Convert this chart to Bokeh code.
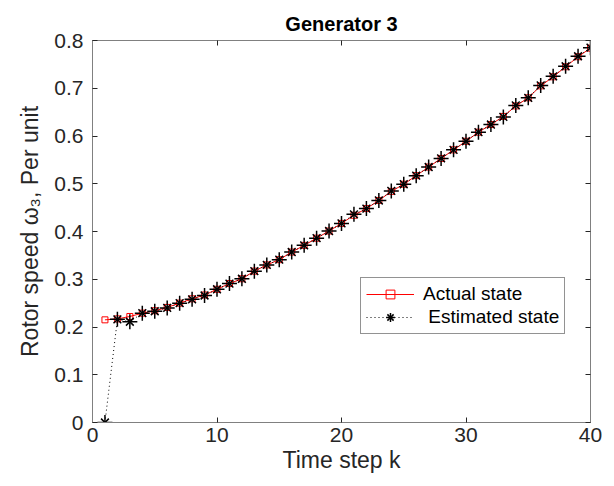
from bokeh.plotting import figure
from bokeh.models import Range1d, LinearAxis, Legend, LegendItem, FixedTicker
from bokeh.embed import file_html
from bokeh.resources import INLINE

k = list(range(1, 41))
actual = [0.215, 0.217, 0.222, 0.229, 0.234, 0.241, 0.250, 0.259, 0.267, 0.279,
          0.291, 0.301, 0.317, 0.330, 0.341, 0.357, 0.371, 0.386, 0.401, 0.417,
          0.434, 0.448, 0.465, 0.484, 0.499, 0.517, 0.535, 0.553, 0.571, 0.589,
          0.608, 0.624, 0.641, 0.663, 0.680, 0.705, 0.724, 0.745, 0.766, 0.784]
estimated = [0.0, 0.216, 0.211, 0.229, 0.233, 0.240, 0.250, 0.258, 0.266, 0.279,
             0.291, 0.301, 0.317, 0.330, 0.341, 0.357, 0.371, 0.386, 0.401, 0.417,
             0.436, 0.448, 0.465, 0.485, 0.499, 0.517, 0.535, 0.553, 0.571, 0.589,
             0.608, 0.624, 0.640, 0.664, 0.680, 0.706, 0.725, 0.746, 0.767, 0.785]
x_ticks = [0, 10, 20, 30, 40]
y_ticks = [0, 0.1, 0.2, 0.3, 0.4, 0.5, 0.6, 0.7, 0.8]
y_tick_labels = ["0", "0.1", "0.2", "0.3", "0.4", "0.5", "0.6", "0.7", "0.8"]

FONT = "Liberation Sans"
AX = "#262626"
FRAME = "#808080"

p = figure(width=606, height=478, output_backend="svg", toolbar_location=None,
           x_range=Range1d(0, 40), y_range=Range1d(0, 0.8),
           min_border_left=92, min_border_right=16, min_border_top=40, min_border_bottom=56)
p.title.text = "Generator 3"
p.title.align = "center"
p.title.text_font = FONT
p.title.text_font_size = "20px"
p.title.text_font_style = "bold"
p.title.text_color = "black"
p.title.standoff = 12
p.grid.visible = False
p.outline_line_color = None
p.background_fill_color = "white"
p.border_fill_color = "white"

def style_axis(ax, ticks, show_labels, overrides=None):
    ax.ticker = FixedTicker(ticks=ticks)
    ax.axis_line_color = FRAME
    ax.major_tick_line_color = AX
    ax.major_tick_in = 5
    ax.major_tick_out = 0
    ax.minor_tick_line_color = None
    ax.major_label_text_font = FONT
    ax.major_label_text_font_size = "21px"
    ax.major_label_text_color = AX
    ax.axis_label_text_font = FONT
    ax.axis_label_text_font_size = "23px"
    ax.axis_label_text_font_style = "normal"
    ax.axis_label_text_color = AX
    if overrides:
        ax.major_label_overrides = overrides
    if not show_labels:
        ax.major_label_overrides = {t: "" for t in ticks}
        ax.major_label_text_font_size = "1px"
        ax.major_label_standoff = 0

style_axis(p.xaxis[0], x_ticks, True)
p.xaxis[0].axis_label = "Time step k"
p.xaxis[0].axis_label_standoff = 2
p.xaxis[0].major_label_standoff = 5
style_axis(p.yaxis[0], y_ticks, True, {t: l for t, l in zip(y_ticks, y_tick_labels)})
p.yaxis[0].axis_label = "Rotor speed ω₃, Per unit"
p.yaxis[0].axis_label_standoff = 8
p.yaxis[0].major_label_standoff = 9

top = LinearAxis()
style_axis(top, x_ticks, False)
p.add_layout(top, "above")
right = LinearAxis()
style_axis(right, y_ticks, False)
p.add_layout(right, "right")

r_line = p.line(k, actual, line_color="red", line_width=1)
r_sq = p.scatter(k, actual, marker="square", size=6, line_color="red",
                 fill_color=None, line_width=1)
e_line = p.line(k, estimated, line_color="black", line_width=1, line_dash="1 3")
e_cross = p.scatter(k, estimated, marker="cross", size=15, line_color="black", line_width=1.5)
e_x = p.scatter(k, estimated, marker="x", size=11, line_color="black", line_width=1.5)

legend = Legend(items=[LegendItem(label="Actual state", renderers=[r_line, r_sq]),
                       LegendItem(label=" Estimated state", renderers=[e_line, e_cross, e_x])],
                location=(268, 88))
legend.label_text_font = FONT
legend.label_text_font_size = "19px"
legend.label_text_color = "black"
legend.glyph_width = 48
legend.glyph_height = 22
legend.label_standoff = 9
legend.spacing = 1
legend.padding = 5
legend.margin = 0
legend.border_line_color = AX
legend.border_line_width = 1
legend.background_fill_color = "white"
legend.background_fill_alpha = 1
p.add_layout(legend, "center")

open("out.html", "w").write(file_html(p, INLINE))
